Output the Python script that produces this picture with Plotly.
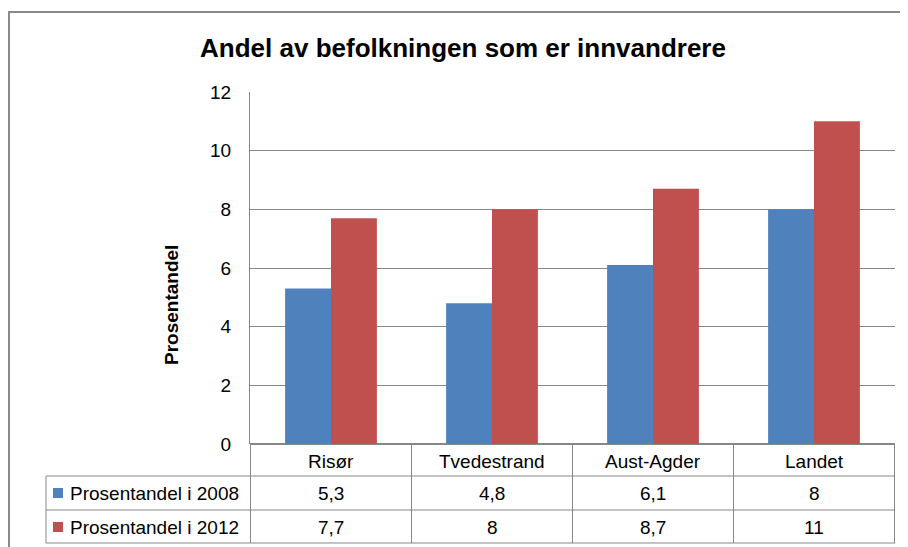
import plotly.graph_objects as go

# data
steder = ["Risør", "Tvedestrand", "Aust-Agder", "Landet"]
serie_navn = ["Prosentandel i 2008", "Prosentandel i 2012"]
andel_2008 = [5.3, 4.8, 6.1, 8]
andel_2012 = [7.7, 8, 8.7, 11]
y_ticks = [0, 2, 4, 6, 8, 10, 12]

farger = ["#4F81BD", "#C0504D"]
font = "Liberation Sans"
grid = "#878787"
fs = 19

# page body has an 8px margin, so the figure is shifted by that
OFF = 8
W, H = 908 - OFF, 547 - OFF
# plot area in screenshot pixels
L, R, T, B = 250, 895, 92, 444
def px_x(x):
    return (x - L) / (R - L)
def px_y(y):
    return (B - y) / (B - T)

def fmt(v):
    return f"{v:g}".replace(".", ",")

fig = go.Figure()
for navn, verdier, farge in zip(serie_navn, [andel_2008, andel_2012], farger):
    fig.add_trace(go.Bar(x=steder, y=verdier, name=navn, marker_color=farge,
                         marker_line_width=0, showlegend=False))

shapes = []
annots = []

# outer chart border
shapes.append(dict(type="rect", xref="paper", yref="paper",
                   x0=px_x(9), x1=px_x(960), y0=px_y(600), y1=px_y(12),
                   line=dict(color="#8a8a8a", width=2)))

# data table lines
for y in [476, 510, 543]:
    shapes.append(dict(type="line", xref="paper", yref="paper",
                       x0=px_x(46), x1=1, y0=px_y(y), y1=px_y(y),
                       line=dict(color=grid, width=1)))
shapes.append(dict(type="line", xref="paper", yref="paper",
                   x0=px_x(46), x1=px_x(46), y0=px_y(476), y1=px_y(543),
                   line=dict(color=grid, width=1)))
for i in range(len(steder) + 1):
    shapes.append(dict(type="line", xref="x", yref="paper",
                       x0=i - 0.5, x1=i - 0.5, y0=0, y1=px_y(543),
                       line=dict(color=grid, width=1)))

# category row
for s in steder:
    annots.append(dict(x=s, xref="x", y=px_y(461), yref="paper", text=s,
                       xanchor="center", yanchor="middle",
                       showarrow=False, font=dict(size=fs, color="black")))

# value rows with legend keys
row_mid = [493, 527]
for navn, verdier, farge, ym in zip(serie_navn, [andel_2008, andel_2012], farger, row_mid):
    for s, v in zip(steder, verdier):
        annots.append(dict(x=s, xref="x", y=px_y(ym), yref="paper", text=fmt(v),
                           xanchor="center", yanchor="middle",
                           showarrow=False, font=dict(size=fs, color="black")))
    shapes.append(dict(type="rect", xref="paper", yref="paper",
                       x0=px_x(53), x1=px_x(63), y0=px_y(ym + 5), y1=px_y(ym - 5),
                       fillcolor=farge, line_width=0))
    annots.append(dict(x=px_x(68), xref="paper", y=px_y(ym), yref="paper", text=navn,
                       xanchor="left", yanchor="middle",
                       showarrow=False, font=dict(size=fs, color="black")))

# y axis title
annots.append(dict(x=px_x(171), xref="paper", y=px_y(305), yref="paper",
                   text="<b>Prosentandel</b>", textangle=-90, showarrow=False,
                   xanchor="center", yanchor="middle",
                   font=dict(size=fs, color="black")))

fig.update_layout(
    width=W, height=H,
    margin=dict(l=L - OFF, r=W - (R - OFF), t=T - OFF, b=H - (B - OFF)),
    paper_bgcolor="white", plot_bgcolor="white",
    font=dict(family=font, color="black"),
    title=dict(text="<b>Andel av befolkningen som er innvandrere</b>",
               x=(463 - OFF) / W, xanchor="center",
               y=1 - (48 - OFF) / H, yanchor="middle",
               font=dict(size=26, color="black")),
    bargap=0.43, bargroupgap=0,
    shapes=shapes, annotations=annots,
)
fig.update_xaxes(showticklabels=False, showgrid=False, showline=False, zeroline=False)
fig.update_yaxes(range=[0, 12], tickvals=y_ticks, showgrid=True, gridcolor=grid,
                 gridwidth=1, zeroline=True, zerolinecolor=grid, showline=True,
                 linecolor=grid, ticks="outside", ticklen=14, tickcolor="rgba(0,0,0,0)",
                 tickfont=dict(size=fs, color="black"))

fig.write_html("out.html")
